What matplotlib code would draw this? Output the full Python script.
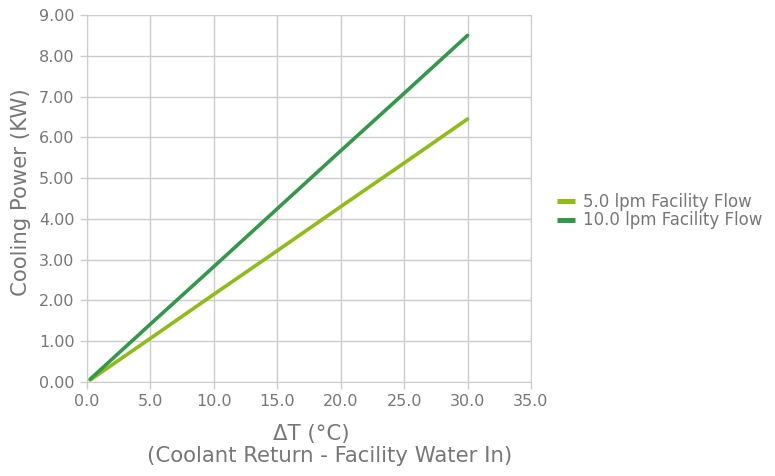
import matplotlib
matplotlib.use("Agg")
import matplotlib.pyplot as plt

plt.rcParams["font.family"] = ["DejaVu Sans"]

delta_t = [0.25, 5.0, 10.0, 15.0, 20.0, 25.0, 30.0]
flow5 = [0.05, 1.07, 2.15, 3.22, 4.30, 5.37, 6.45]
flow10 = [0.07, 1.42, 2.83, 4.25, 5.67, 7.08, 8.50]
series_labels = ["5.0 lpm Facility Flow", "10.0 lpm Facility Flow"]
xticks = [0, 5, 10, 15, 20, 25, 30, 35]
yticks = [0, 1, 2, 3, 4, 5, 6, 7, 8, 9]

gray = "#777777"
grid = "#cccccc"
W, H = 775, 476

fig = plt.figure(figsize=(7.75, 4.76), dpi=100)
ax = fig.add_axes([87 / W, 1 - 382 / H, 444 / W, 367 / H])

ax.plot(delta_t, flow5, color="#8fbc15", lw=2.6, label=series_labels[0], solid_capstyle="round")
ax.plot(delta_t, flow10, color="#33994a", lw=2.6, label=series_labels[1], solid_capstyle="round")

ax.set_xlim(0, 35)
ax.set_ylim(0, 9)
ax.set_xticks(xticks)
ax.set_xticklabels([f"{v:.1f}" for v in xticks])
ax.set_yticks(yticks)
ax.set_yticklabels([f"{v:.2f}" for v in yticks])
ax.grid(True, color=grid, lw=1)
ax.set_axisbelow(True)
for s in ["left", "bottom", "top", "right"]:
    ax.spines[s].set_color(grid)
ax.tick_params(colors=grid, labelcolor=gray, labelsize=11.5, length=5, width=1, pad=4)

fig.text(21 / W, 1 - 192 / H, "Cooling Power (KW)", color=gray, fontsize=15.3,
         rotation=90, ha="center", va="center")
fig.text(311 / W, 1 - 434 / H, "ΔT (°C)", color=gray, fontsize=15.3, ha="center", va="center")
fig.text(330 / W, 1 - 456 / H, "(Coolant Return - Facility Water In)", color=gray, fontsize=15.3,
         ha="center", va="center")

leg = fig.legend(loc="center left", bbox_to_anchor=(557 / W, 1 - 211 / H), frameon=False,
                 fontsize=12, labelcolor=gray, handlelength=1.05, handletextpad=0.5,
                 labelspacing=0.05, borderaxespad=0, borderpad=0)
for h in leg.get_lines():
    h.set_linewidth(3.6)
    h.set_solid_capstyle("butt")

fig.savefig("out.png", dpi=100)
